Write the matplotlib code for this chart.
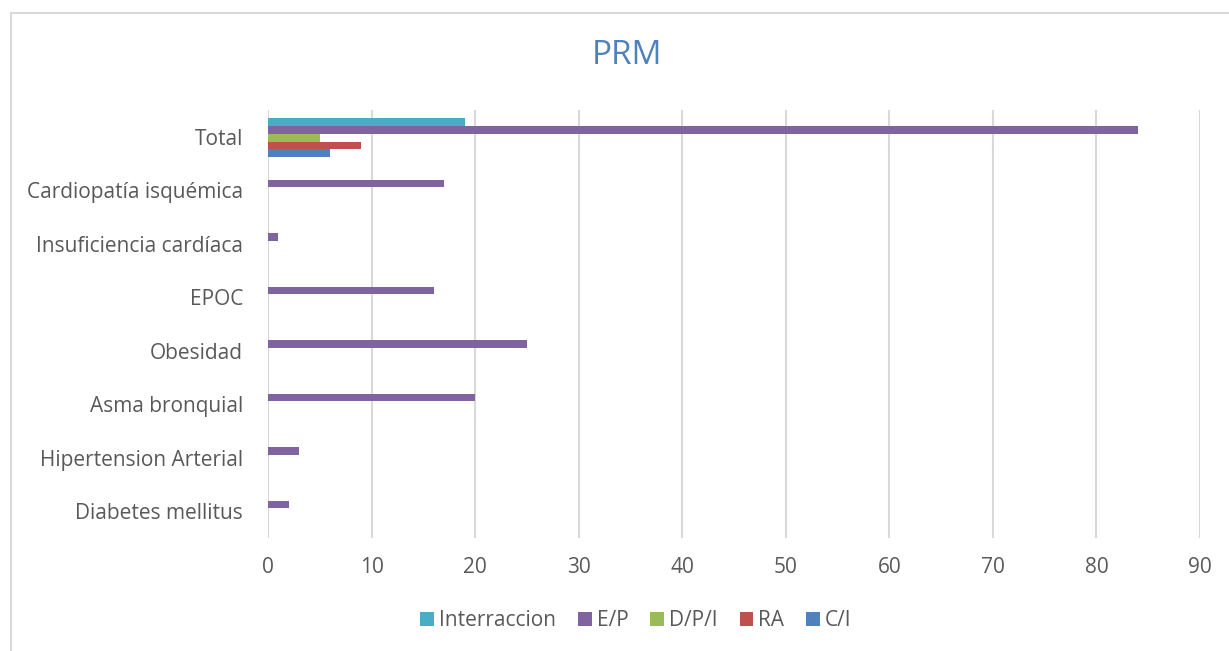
import matplotlib.pyplot as plt
import numpy as np
from matplotlib.patches import Rectangle

# data
categorias = ['Total', 'Cardiopatía isquémica', 'Insuficiencia cardíaca', 'EPOC',
              'Obesidad', 'Asma bronquial', 'Hipertension Arterial', 'Diabetes mellitus']
interraccion = [19, 0, 0, 0, 0, 0, 0, 0]
e_p = [84, 17, 1, 16, 25, 20, 3, 2]
d_p_i = [5, 0, 0, 0, 0, 0, 0, 0]
ra = [9, 0, 0, 0, 0, 0, 0, 0]
c_i = [6, 0, 0, 0, 0, 0, 0, 0]

series = [('Interraccion', interraccion, '#4BACC6'),
          ('E/P', e_p, '#8064A2'),
          ('D/P/I', d_p_i, '#9BBB59'),
          ('RA', ra, '#C0504D'),
          ('C/I', c_i, '#4F81BD')]

plt.rcParams['font.family'] = ['Open Sans', 'DejaVu Sans']

fig = plt.figure(figsize=(12.29, 6.51), dpi=100)
ax = fig.add_axes([268/1229, 1 - 538/651, (1200 - 268)/1229, (538 - 110)/651])

# chart border
fig.patches.append(Rectangle((11/1229, -0.05), 1.1, 1 - 13/651 + 0.05, transform=fig.transFigure,
                             fill=False, edgecolor='#D9D9D9', linewidth=1.5))

y = np.arange(len(categorias))
h = 0.145
for i, (nombre, vals, col) in enumerate(series):
    ax.barh(y + (i - 2) * h + 0.02, vals, height=h, color=col, label=nombre, zorder=3)

ax.set_ylim(len(categorias) - 0.5, -0.5)
ax.set_xlim(0, 90)
ax.set_xticks(range(0, 91, 10))
ax.set_yticks(y)
ax.set_yticklabels(categorias)
ax.tick_params(axis='both', length=0, labelsize=15, colors='#595959')
ax.tick_params(axis='x', pad=14)
ax.tick_params(axis='y', pad=18)
ax.grid(axis='x', color='#D9D9D9', linewidth=1.5, zorder=0)
for s in ax.spines.values():
    s.set_visible(False)

fig.text(627/1229, 1 - 55/651, 'PRM', ha='center', va='center', fontsize=24, color='#4F81BD')

leg = fig.legend(loc='center', bbox_to_anchor=(636/1229, 1 - 621/651), ncol=5, frameon=False,
                 fontsize=15, handlelength=0.65, handleheight=0.65, handletextpad=0.25,
                 columnspacing=1.05, labelcolor='#595959')

plt.savefig('out.png', dpi=100)
